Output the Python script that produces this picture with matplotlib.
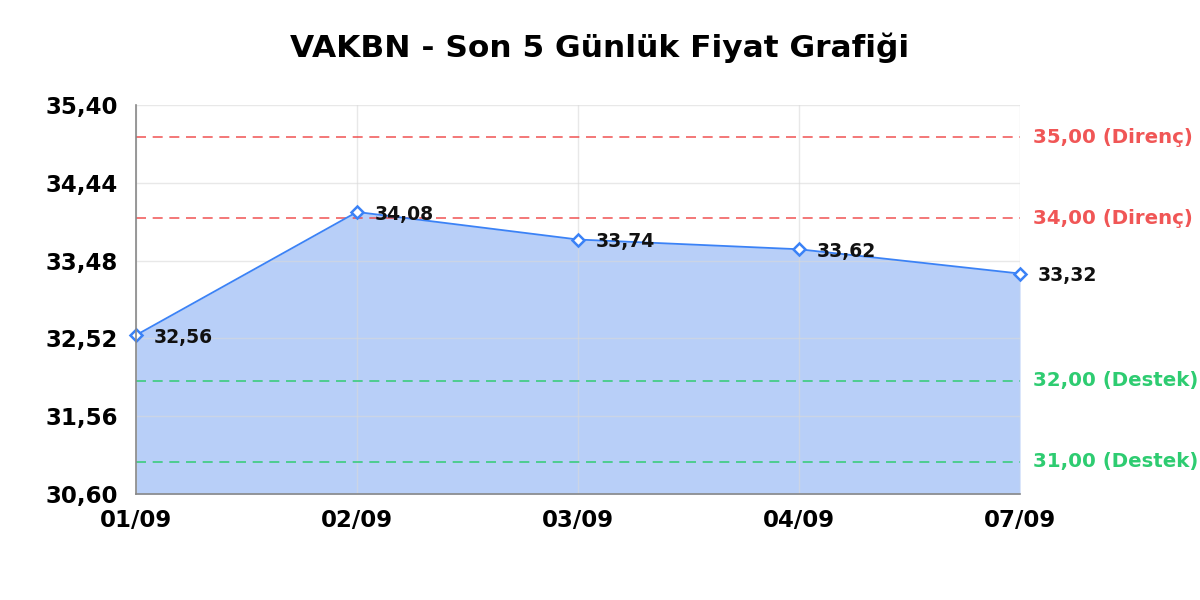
import matplotlib
matplotlib.use("Agg")
import matplotlib.pyplot as plt
import matplotlib.transforms as mtransforms

plt.rcParams["font.family"] = ["DejaVu Sans"]

dates = ["01/09", "02/09", "03/09", "04/09", "07/09"]
prices = [32.56, 34.08, 33.74, 33.62, 33.32]
y_ticks = [30.60, 31.56, 32.52, 33.48, 34.44, 35.40]
resistance = [35.00, 34.00]
support = [32.00, 31.00]

title = "VAKBN - Son 5 Günlük Fiyat Grafiği"

line_color = "#3b82f6"
fill_color = "#b8cff8"
red = "#ef4444"
green = "#2ecc71"

def fmt(v):
    return f"{v:.2f}".replace(".", ",")

fig = plt.figure(figsize=(12, 6), dpi=100)
ax = fig.add_axes([136/1200, 1-494/600, (1020-136)/1200, (494-105)/600])

x = list(range(len(dates)))
ax.fill_between(x, prices, y_ticks[0], color=fill_color, zorder=1, linewidth=0)
ax.plot(x, prices, color=line_color, linewidth=1.3, zorder=4,
        marker="D", markersize=6.5, markerfacecolor="white",
        markeredgecolor=line_color, markeredgewidth=1.8, clip_on=False)

ax.set_xlim(0, len(dates) - 1)
ax.set_ylim(y_ticks[0], y_ticks[-1])
ax.set_xticks(x)
ax.set_xticklabels(dates)
ax.set_yticks(y_ticks)
ax.set_yticklabels([fmt(v) for v in y_ticks])
ax.tick_params(axis="both", length=0, labelsize=16.5)
ax.tick_params(axis="y", pad=13)
ax.tick_params(axis="x", pad=11)
for lab in ax.get_xticklabels() + ax.get_yticklabels():
    lab.set_fontweight("bold")

ax.grid(True, color="#d9d9d9", linewidth=1, alpha=0.6, zorder=2)
ax.set_axisbelow(False)
for s in ["top", "right"]:
    ax.spines[s].set_visible(False)
for s in ["left", "bottom"]:
    ax.spines[s].set_color("#888888")
    ax.spines[s].set_linewidth(1.2)
    ax.spines[s].set_zorder(5)

trans = mtransforms.blended_transform_factory(ax.transAxes, ax.transData)
for v in resistance:
    ax.axhline(v, color=red, linestyle=(0, (6, 4)), linewidth=1.2, alpha=0.85, zorder=3)
    ax.text(1 + 13/884, v, f"{fmt(v)} (Direnç)", transform=trans, color=red,
            fontsize=14.2, fontweight="bold", va="center", ha="left", alpha=0.9)
for v in support:
    ax.axhline(v, color=green, linestyle=(0, (6, 4)), linewidth=1.2, alpha=0.9, zorder=3)
    ax.text(1 + 13/884, v, f"{fmt(v)} (Destek)", transform=trans, color=green,
            fontsize=14.2, fontweight="bold", va="center", ha="left")

for xi, p in zip(x, prices):
    ax.annotate(fmt(p), (xi, p), xytext=(13, -1.5), textcoords="offset points",
                fontsize=13.5, fontweight="bold", va="center", ha="left",
                color="#111111", zorder=6, annotation_clip=False)

fig.text(0.5, 1-48/600, title, ha="center", va="center",
         fontsize=22.5, fontweight="bold")

fig.savefig("out.png", dpi=100, facecolor="white")
